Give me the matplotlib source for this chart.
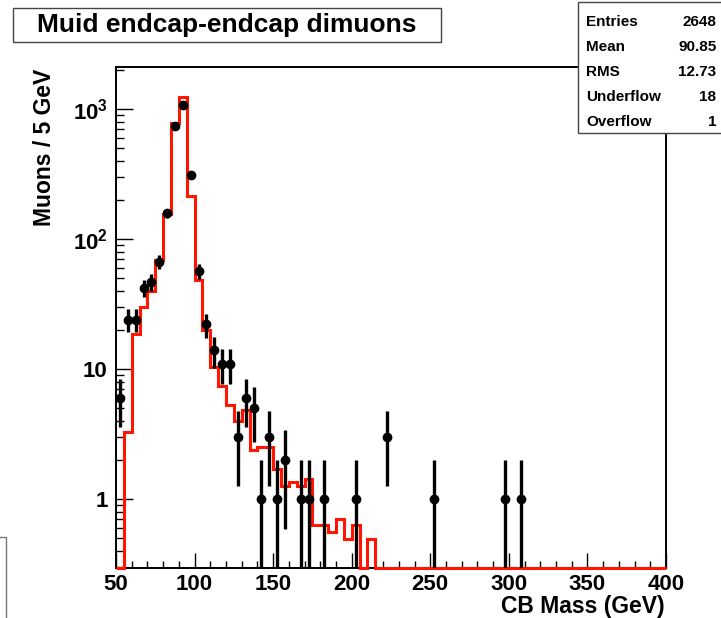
import numpy as np
import matplotlib
matplotlib.use("Agg")
import matplotlib.pyplot as plt
from matplotlib.patches import Rectangle
from matplotlib.ticker import LogLocator, MultipleLocator, NullFormatter

plt.rcParams['font.family'] = ['Liberation Sans', 'DejaVu Sans']
plt.rcParams['font.weight'] = 'bold'
plt.rcParams['mathtext.fontset'] = 'custom'
plt.rcParams['mathtext.rm'] = 'Liberation Sans:bold'
plt.rcParams['mathtext.bf'] = 'Liberation Sans:bold'
plt.rcParams['mathtext.default'] = 'bf'

# data: 5 GeV bins, only non-empty bins listed (bin centres)
data_mass = [52.5, 57.5, 62.5, 67.5, 72.5, 77.5, 82.5, 87.5, 92.5, 97.5,
             102.5, 107.5, 112.5, 117.5, 122.5, 127.5, 132.5, 137.5, 142.5, 147.5,
             152.5, 157.5, 167.5, 172.5, 182.5, 202.5, 222.5, 252.5, 297.5, 307.5]
data_counts = [6, 24, 24, 42, 47, 67, 157, 742, 1065, 310,
               57, 22, 14, 11, 11, 3, 6, 5, 1, 3,
               1, 2, 1, 1, 1, 1, 3, 1, 1, 1]

# simulation histogram, 50-400 GeV in 5 GeV bins
bin_edges = np.arange(50, 405, 5)
mc_counts = [0, 3.3, 18.7, 30, 39.5, 69, 156, 780, 1240, 213,
             48, 20, 10.4, 7.4, 5.3, 4.0, 4.8, 2.4, 2.5, 2.5,
             1.7, 1.27, 1.35, 1.27, 1.42, 0.63, 0.63, 0.56, 0.70, 0.49,
             0.63, 0, 0.49] + [0] * 37

stats_names = ["Entries", "Mean", "RMS", "Underflow", "Overflow"]
stats_values = ["2648", "90.85", "12.73", "18", "1"]

W, H = 721, 618
fig = plt.figure(figsize=(W / 100, H / 100), dpi=100)
ax = fig.add_axes([116 / W, 1 - 568 / H, 550 / W, 500.7 / H])

ax.set_yscale('log')
ax.set_xlim(50, 400)
ax.set_ylim(0.295, 2090)
floor = ax.get_ylim()[0]

# empty bins are drawn on the frame bottom, ROOT style
mc = np.array(mc_counts, dtype=float)
mc = np.where(mc > 0, mc, floor)
ax.stairs(mc, bin_edges, baseline=None, color='#ff1500', lw=2.2, clip_on=False, zorder=3)

n = np.array(data_counts, dtype=float)
lo = n - np.maximum(n - np.sqrt(n), 1e-3)
hi = np.sqrt(n)
ax.errorbar(data_mass, n, yerr=[lo, hi], fmt='o', color='black', ms=6,
            elinewidth=2.4, capsize=0, zorder=4)

for s in ax.spines.values():
    s.set_linewidth(1.4)
    s.set_color('black')

ax.xaxis.set_major_locator(MultipleLocator(50))
ax.xaxis.set_minor_locator(MultipleLocator(10))
ax.set_yticks([1, 10, 100, 1000])
ax.set_yticklabels(['1', '10', r'$10^{2}$', r'$10^{3}$'])
ax.yaxis.set_minor_locator(LogLocator(base=10, subs=np.arange(2, 10)))
ax.yaxis.set_minor_formatter(NullFormatter())

ax.tick_params(axis='both', which='both', direction='in', top=False, right=False)
ax.tick_params(axis='x', which='major', length=10.8, width=1, pad=4, labelsize=16)
ax.tick_params(axis='x', which='minor', length=5.4, width=1)
ax.tick_params(axis='y', which='major', length=11.9, width=1, pad=6, labelsize=16)
ax.tick_params(axis='y', which='minor', length=5.9, width=1)

# axis titles
fig.text(665 / W, 1 - 606 / H, "CB Mass (GeV)", ha='right', va='center',
         fontsize=16.5, fontweight='bold')
fig.text(45 / W, 1 - 147 / H, "Muons / 5 GeV", ha='center', va='center',
         rotation=90, fontsize=16.5, fontweight='bold')

# title box
fig.patches.append(Rectangle((12.5 / W, 1 - 41.5 / H), 429 / W, 33.3 / H,
                             transform=fig.transFigure, facecolor='white',
                             edgecolor='#444444', lw=1))
fig.text(227 / W, 1 - 25 / H, "Muid endcap-endcap dimuons", ha='center', va='center',
         fontsize=19, fontweight='bold')

# stats box
fig.patches.append(Rectangle((577.5 / W, 1 - 133 / H), 150 / W, 131 / H,
                             transform=fig.transFigure, facecolor='white',
                             edgecolor='#444444', lw=1, zorder=5))
for i, (name, val) in enumerate(zip(stats_names, stats_values)):
    y = 1 - (22.5 + 24.8 * i) / H
    fig.text(586 / W, y, name, ha='left', va='center', fontsize=11, fontweight='bold', zorder=6)
    fig.text(716.5 / W, y, val, ha='right', va='center', fontsize=11, fontweight='bold', zorder=6)

# edge of a neighbouring pad at bottom left
fig.patches.append(Rectangle((-0.1, -0.1), 0.1 + 6 / W, 0.1 + (618 - 537) / H,
                             transform=fig.transFigure, facecolor='none',
                             edgecolor='#777777', lw=1))

fig.savefig("out.png", dpi=100)
